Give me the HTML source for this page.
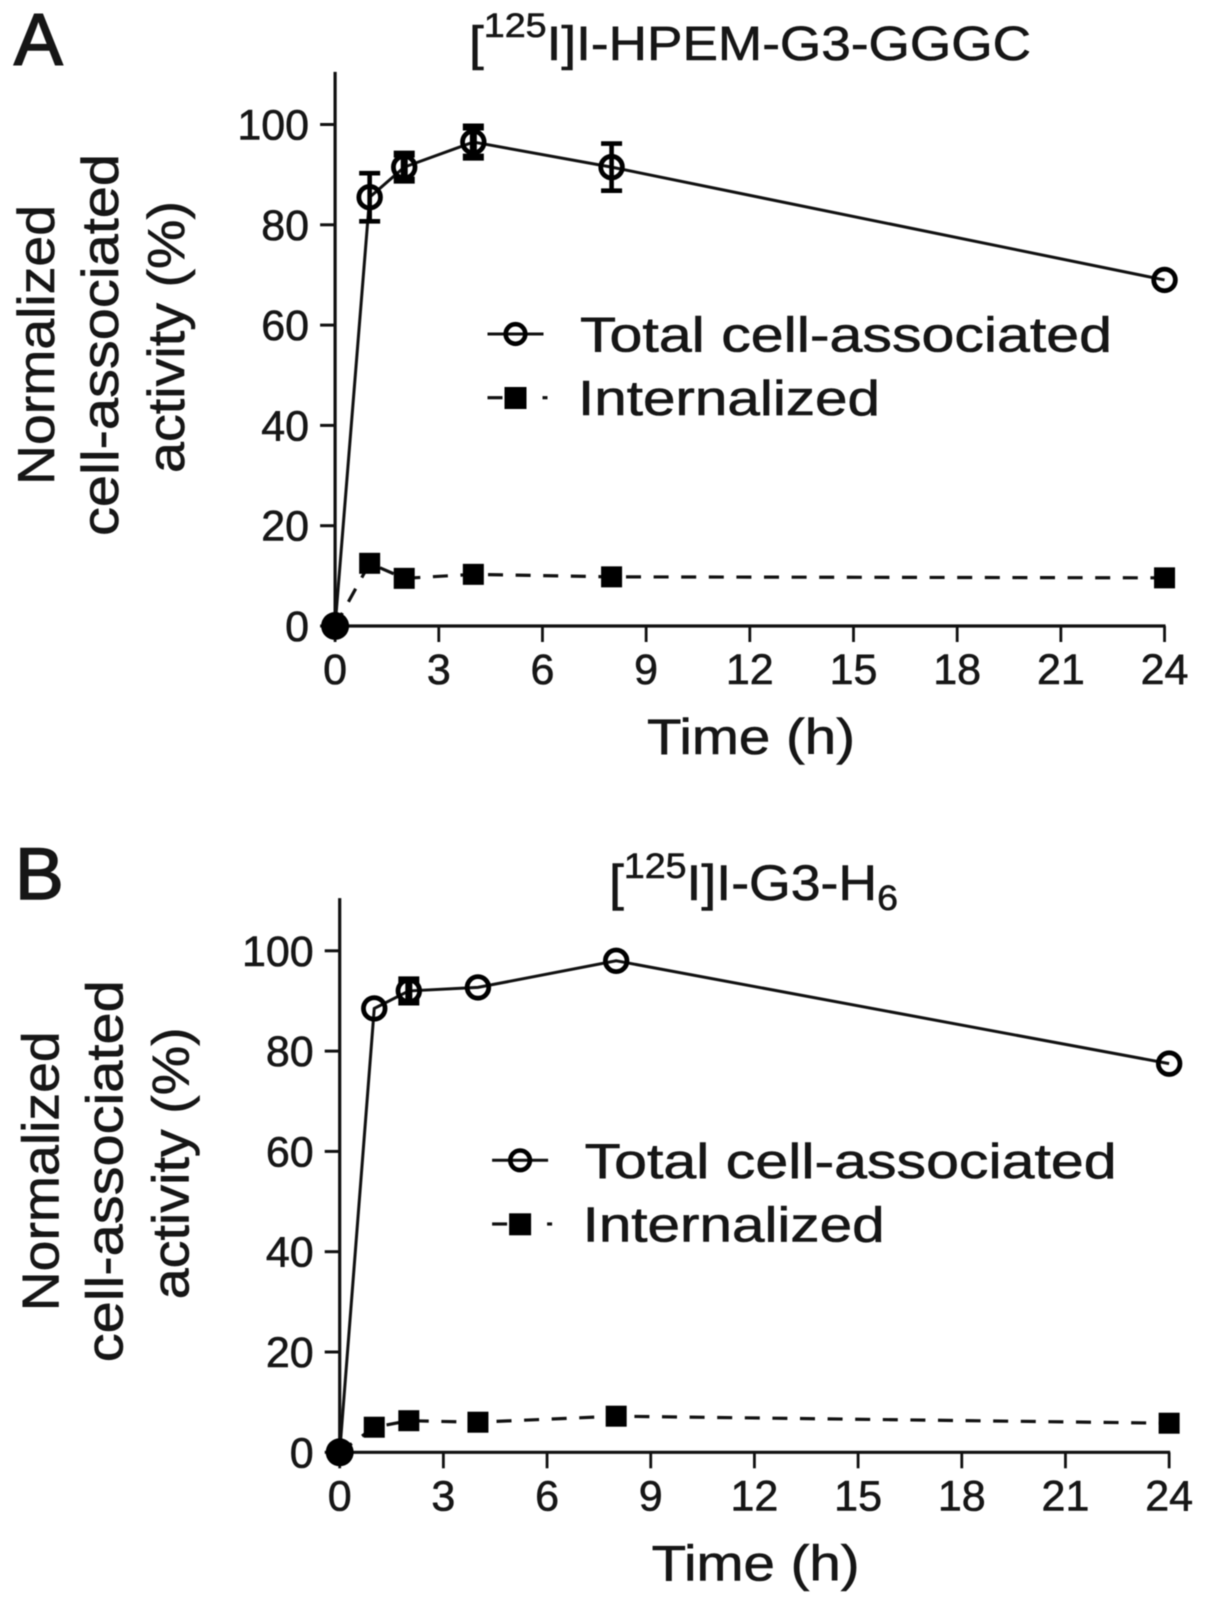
<!DOCTYPE html>
<html lang="en">
<head>
<meta charset="utf-8">
<title>Normalized cell-associated activity</title>
<style>
html,body{margin:0;padding:0;background:#fff;}
#figure{display:block;width:1205px;height:1603px;filter:blur(0.6px);}
text{font-family:"Liberation Sans",sans-serif;fill:#161616;stroke:#161616;stroke-width:0.6px;}
text.letter{stroke-width:1.6px;}
</style>
</head>
<body>
<svg id="figure" xmlns="http://www.w3.org/2000/svg" width="1205" height="1603" viewBox="0 0 1205 1603">
  <rect x="0" y="0" width="1205" height="1603" fill="#fff"/>

  <text class="letter" x="14" y="65" font-size="73">A</text>
  <text x="469" y="60" font-size="48" textLength="562" lengthAdjust="spacingAndGlyphs">[<tspan font-size="34" dy="-23">125</tspan><tspan dy="23">I]I-HPEM-G3-GGGC</tspan></text>
  <g id="panel-a"></g>
  <g>
    <text transform="translate(54,345) rotate(-90)" text-anchor="middle" font-size="52" textLength="280" lengthAdjust="spacingAndGlyphs">Normalized</text>
    <text transform="translate(118,345) rotate(-90)" text-anchor="middle" font-size="52" textLength="382" lengthAdjust="spacingAndGlyphs">cell-associated</text>
    <text transform="translate(184,337) rotate(-90)" text-anchor="middle" font-size="52" textLength="272" lengthAdjust="spacingAndGlyphs">activity (%)</text>
  </g>
  <text x="647" y="754" font-size="50" textLength="208" lengthAdjust="spacingAndGlyphs">Time (h)</text>
  <text x="580" y="351.5" font-size="49" textLength="532" lengthAdjust="spacingAndGlyphs">Total cell-associated</text>
  <text x="578" y="415" font-size="49" textLength="302" lengthAdjust="spacingAndGlyphs">Internalized</text>

  <text class="letter" x="15" y="899" font-size="73">B</text>
  <text x="609" y="900" font-size="50" textLength="289" lengthAdjust="spacingAndGlyphs">[<tspan font-size="35" dy="-22">125</tspan><tspan dy="22">I]I-G3-H</tspan><tspan font-size="35" dy="10">6</tspan></text>
  <g id="panel-b"></g>
  <g>
    <text transform="translate(58.6,1171.3) rotate(-90)" text-anchor="middle" font-size="52" textLength="280" lengthAdjust="spacingAndGlyphs">Normalized</text>
    <text transform="translate(122.6,1171.3) rotate(-90)" text-anchor="middle" font-size="52" textLength="382" lengthAdjust="spacingAndGlyphs">cell-associated</text>
    <text transform="translate(188.6,1163.3) rotate(-90)" text-anchor="middle" font-size="52" textLength="272" lengthAdjust="spacingAndGlyphs">activity (%)</text>
  </g>
  <text x="651.6" y="1580.3" font-size="50" textLength="208" lengthAdjust="spacingAndGlyphs">Time (h)</text>
  <text x="584.6" y="1177.8" font-size="49" textLength="532" lengthAdjust="spacingAndGlyphs">Total cell-associated</text>
  <text x="582.6" y="1241.3" font-size="49" textLength="302" lengthAdjust="spacingAndGlyphs">Internalized</text>
</svg>

<script>
const hours = [0, 1, 2, 4, 8, 24];
const xTickLabels = [0, 3, 6, 9, 12, 15, 18, 21, 24];
const yTickLabels = [0, 20, 40, 60, 80, 100];
const panelATotal = [0, 85.5, 91.5, 96.5, 91.5, 69];
const panelATotalError = [0, 4.8, 2.6, 3, 4.7, 0];
const panelAInternalized = [0, 12.5, 9.5, 10.3, 9.8, 9.6];
const panelBTotal = [0, 88.5, 92, 92.7, 98, 77.5];
const panelBTotalError = [0, 0, 2.2, 0, 0, 0];
const panelBInternalized = [0, 5, 6.3, 6, 7.2, 5.8];

const NS = 'http://www.w3.org/2000/svg';
const INK = '#111';

function make(parent, tag, attrs) {
  const el = document.createElementNS(NS, tag);
  for (const k in attrs) el.setAttribute(k, attrs[k]);
  parent.appendChild(el);
  return el;
}

function drawPanel(root, dx, dy, total, totalError, internalized) {
  const sx = h => dx + 335.1 + h * 34.56;
  const sy = v => dy + 626 - v * 5.015;

  // axes
  const yAxis = make(root, 'line', {x1: sx(0), x2: sx(0), y1: sy(110.5), y2: sy(0), stroke: INK, 'stroke-width': 3.2});
  
  
  const xAxis = make(root, 'line', {x1: sx(0), x2: sx(24) + 1, y1: sy(0), y2: sy(0), stroke: INK, 'stroke-width': 3.2});
  
  

  yTickLabels.forEach(v => {
    const tick = make(root, 'line', {x1: sx(0) - 15, x2: sx(0), y1: sy(v), y2: sy(v), stroke: INK, 'stroke-width': 3});
    
    
    const label = make(root, 'text', {x: sx(0) - 26, y: sy(v) + 15, 'text-anchor': 'end', 'font-size': 43});
    
    
    label.textContent = v;
  });
  xTickLabels.forEach(h => {
    const tick = make(root, 'line', {x1: sx(h), x2: sx(h), y1: sy(0), y2: sy(0) + 16, stroke: INK, 'stroke-width': 2.8});
    
    
    const label = make(root, 'text', {x: sx(h), y: sy(0) + 58, 'text-anchor': 'middle', 'font-size': 43});
    
    
    label.textContent = h;
  });

  // series lines
  const toPoints = vals => vals.map((v, i) => sx(hours[i]) + ',' + sy(v)).join(' ');
  const lineInt = make(root, 'polyline', {points: toPoints(internalized), fill: 'none', stroke: INK, 'stroke-width': 3.2, 'stroke-dasharray': '15 12.6'});
  
  
  const lineTot = make(root, 'polyline', {points: toPoints(total), fill: 'none', stroke: INK, 'stroke-width': 3});
  
  

  // squares
  internalized.forEach((v, i) => {
    if (hours[i] === 0) return;
    const sq = make(root, 'rect', {x: sx(hours[i]) - 10.5, y: sy(v) - 10.5, width: 21, height: 21, fill: '#000'});
    
    
  });

  // error bars and circles
  total.forEach((v, i) => {
    const x = sx(hours[i]);
    if (hours[i] === 0) {
      const origin = make(root, 'circle', {cx: x, cy: sy(v), r: 14, fill: '#000'});
      
      
      return;
    }
    const e = totalError[i];
    if (e > 0) {
      const err = make(root, 'path', {
        d: 'M' + x + ' ' + sy(v + e) + 'V' + sy(v - e) +
           'M' + (x - 10.5) + ' ' + sy(v + e) + 'h21' +
           'M' + (x - 10.5) + ' ' + sy(v - e) + 'h21',
        fill: 'none', stroke: '#000', 'stroke-width': e < 4 ? 7 : 4.6
      });
      
      
    }
    const c = make(root, 'circle', {cx: x, cy: sy(v), r: 10.8, fill: 'none', stroke: '#000', 'stroke-width': 4.8});
    
    
  });

  // legend symbols
  const lx = dx + 515.5;
  const l1 = make(root, 'line', {x1: lx - 28, x2: lx + 28, y1: dy + 334, y2: dy + 334, stroke: INK, 'stroke-width': 3});
  
  
  const l2 = make(root, 'circle', {cx: lx, cy: dy + 334, r: 9.8, fill: 'none', stroke: '#000', 'stroke-width': 4.6});
  
  
  const l3 = make(root, 'line', {x1: lx - 28, x2: lx - 13, y1: dy + 397.7, y2: dy + 397.7, stroke: INK, 'stroke-width': 3.2});
  
  
  const l4 = make(root, 'line', {x1: lx + 27, x2: lx + 32, y1: dy + 397.7, y2: dy + 397.7, stroke: INK, 'stroke-width': 3.2});
  
  
  const l5 = make(root, 'rect', {x: lx - 11, y: dy + 387, width: 22, height: 22, fill: '#000'});
  
  
}

drawPanel(document.getElementById('panel-a'), 0, 0, panelATotal, panelATotalError, panelAInternalized);
drawPanel(document.getElementById('panel-b'), 4.6, 826.3, panelBTotal, panelBTotalError, panelBInternalized);
</script>
</body>
</html>
